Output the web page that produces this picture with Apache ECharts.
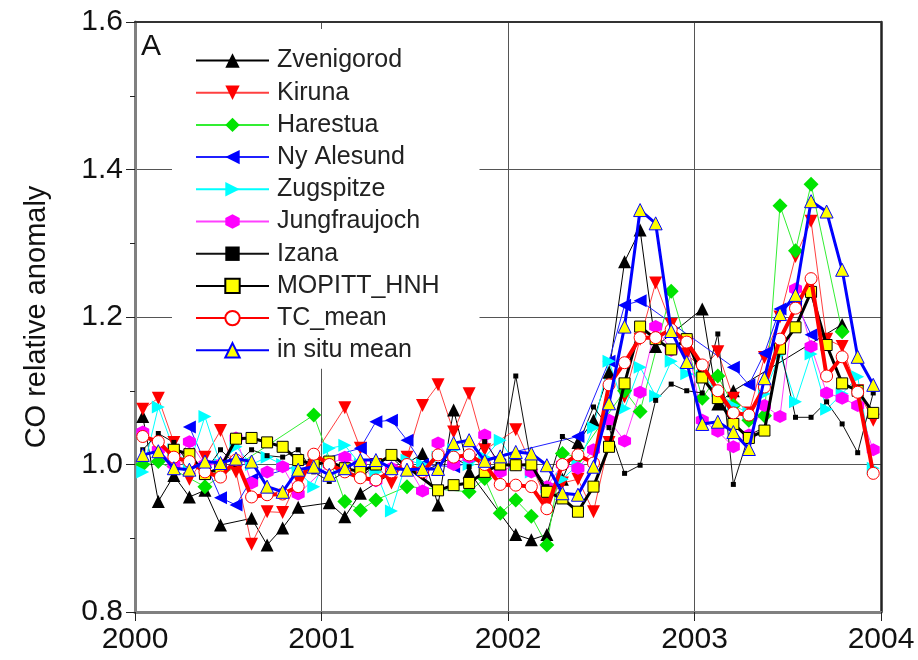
<!DOCTYPE html>
<html>
<head>
<meta charset="utf-8">
<script src="https://cdn.jsdelivr.net/npm/echarts@6/dist/echarts.min.js"></script>
<style>
html,body{margin:0;padding:0;background:#fff;}
#chart{width:918px;height:660px;}
</style>
</head>
<body>
<div id="chart"></div>
<script>
// Monthly values, Jan 2000 .. Dec 2003 (48 months, plotted at mid-month)
var startYear = 2000;
var xTicks = [2000, 2001, 2002, 2003, 2004];
var yTicks = [0.8, 1.0, 1.2, 1.4, 1.6];

var zvenigorod = [1.065,0.950,0.985,0.956,0.965,0.918,null,0.927,0.891,0.914,0.942,null,
                  0.948,0.929,0.961,null,null,null,1.015,0.945,1.074,0.990,null,null,
                  0.905,0.898,0.905,0.980,1.030,1.060,1.125,1.275,1.318,1.160,null,null,
                  1.211,1.082,1.100,null,null,null,null,null,null,1.190,null,null];
var kiruna = [1.075,1.090,1.030,0.980,1.010,1.046,0.990,0.892,0.936,0.935,0.980,null,
              null,1.077,1.022,1.000,0.975,1.010,1.080,1.108,1.044,1.096,1.020,null,
              1.047,1.000,0.950,0.975,0.980,0.936,1.030,1.092,1.170,1.246,1.190,1.150,
              1.130,1.153,1.090,1.070,1.145,1.200,1.282,1.330,1.170,1.160,1.100,1.060];
var harestua = [1.000,1.004,null,null,0.970,null,null,null,null,null,null,1.067,
                null,0.950,0.938,0.952,null,0.970,null,null,null,0.963,0.981,0.934,
                0.952,0.930,0.891,1.015,1.010,null,null,1.100,1.072,null,1.235,null,
                1.090,1.120,1.080,1.060,1.066,1.351,1.290,1.380,null,1.180,null,null];
var nyAlesund = [null,null,null,1.051,null,0.955,0.945,0.980,null,null,null,null,
                 null,null,1.022,1.058,1.060,1.033,1.000,null,0.997,null,null,null,
                 null,null,null,null,1.038,null,1.140,1.216,1.222,null,null,null,
                 null,null,1.132,1.108,1.151,1.211,1.220,1.176,null,null,null,null];
var zugspitze = [0.990,1.078,1.020,1.000,1.065,1.000,1.024,1.000,1.010,1.000,0.990,0.970,
                 1.022,1.026,1.000,0.990,0.937,1.006,1.000,1.010,1.020,1.000,1.010,1.033,
                 1.000,0.990,0.970,0.980,1.000,1.050,1.140,1.076,1.132,1.093,1.140,1.123,
                 1.120,1.100,1.080,1.070,1.096,1.150,1.085,1.150,1.075,1.096,1.119,0.995];
var jungfraujoch = [1.044,1.020,1.000,1.031,1.000,1.000,1.036,0.975,0.990,0.997,0.960,null,
                    1.000,1.010,1.000,0.978,0.995,1.000,0.964,1.029,1.000,1.010,1.040,0.990,
                    1.000,0.990,0.970,1.000,0.995,1.020,1.060,1.032,1.098,1.187,1.155,1.170,
                    1.060,1.045,1.024,1.040,1.080,1.065,1.238,1.160,1.097,1.090,1.080,1.020];
var izana = [1.020,1.042,1.030,1.000,0.990,1.020,1.000,1.020,1.012,1.010,1.020,0.990,
             0.977,0.990,0.982,1.000,1.010,0.990,0.990,1.000,1.010,0.997,1.031,1.000,
             1.120,1.000,0.970,1.038,1.026,1.078,1.050,0.988,0.999,1.087,1.109,1.100,
             1.097,1.177,0.973,1.040,1.050,1.160,1.064,1.064,1.085,1.055,1.016,1.097];
var mopittHNH = [null,null,1.020,1.014,0.987,0.995,1.035,1.036,1.030,1.024,1.006,1.000,
                 1.004,0.995,0.990,1.000,1.013,null,null,0.965,0.972,0.975,0.990,1.000,
                 0.999,1.000,0.963,0.954,0.936,0.970,1.024,1.110,1.187,1.170,1.156,1.170,
                 1.118,1.090,1.055,1.036,1.046,1.157,1.186,1.234,1.162,1.110,1.100,1.070];
var tcMean = [1.038,1.031,1.010,1.004,0.990,0.983,1.006,0.956,0.959,0.960,0.970,1.014,
              1.000,0.990,0.982,0.979,0.990,1.000,0.990,1.013,1.010,1.013,1.000,0.973,
              0.972,0.970,0.940,1.000,1.013,1.002,1.108,1.138,1.172,1.172,1.183,1.166,
              1.135,1.100,1.070,1.067,1.105,1.170,1.212,1.252,1.120,1.146,1.098,0.988];
var inSituMean = [1.013,1.018,0.995,0.993,1.004,1.002,1.008,1.004,0.970,0.963,0.993,0.997,
                  0.986,0.995,1.006,1.006,0.995,0.993,0.994,0.994,1.029,1.033,1.005,1.011,
                  1.017,1.015,0.999,0.961,0.959,0.997,1.083,1.187,1.345,1.327,1.181,1.139,
                  1.055,1.058,1.044,1.021,1.117,1.204,1.230,1.357,1.343,1.264,1.146,1.108];

function pairs(vals) {
  return vals.map(function (v, i) { return [startYear + (i + 0.5) / 12, v]; });
}

var hexPath = 'path://M0,-10 L8.66,-5 L8.66,5 L0,10 L-8.66,5 L-8.66,-5 Z';

function mk(name, vals, o) {
  return {
    name: name, type: 'line', data: pairs(vals), connectNulls: true,
    symbol: o.symbol, symbolSize: o.size, symbolRotate: o.rotate || 0,
    showAllSymbol: true, animation: false,
    lineStyle: { color: o.line, width: o.lw },
    itemStyle: { color: o.fill, borderColor: o.stroke, borderWidth: o.bw || 0, opacity: 1 },
    emphasis: { disabled: true }, z: o.z || 2
  };
}

var series = [
  mk('Zvenigorod', zvenigorod, { symbol: 'triangle', size: 13, line: '#000', lw: 1, fill: '#000', stroke: '#000' }),
  mk('Kiruna', kiruna, { symbol: 'triangle', size: 13, rotate: 180, line: '#ff4040', lw: 1, fill: '#ff0000', stroke: '#ff0000' }),
  mk('Harestua', harestua, { symbol: 'diamond', size: 15, line: '#33ee33', lw: 1, fill: '#00e400', stroke: '#00e400' }),
  mk('Ny Alesund', nyAlesund, { symbol: 'triangle', size: 13, rotate: 90, line: '#2020ff', lw: 1, fill: '#0000ff', stroke: '#0000ff' }),
  mk('Zugspitze', zugspitze, { symbol: 'triangle', size: 13, rotate: -90, line: '#00ffff', lw: 1, fill: '#00ffff', stroke: '#00ffff' }),
  mk('Jungfraujoch', jungfraujoch, { symbol: hexPath, size: 13, line: '#ff40ff', lw: 1, fill: '#ff00ff', stroke: '#ff00ff' }),
  mk('Izana', izana, { symbol: 'rect', size: 5, line: '#111', lw: 1, fill: '#000', stroke: '#000' }),
  mk('MOPITT_HNH', mopittHNH, { symbol: 'rect', size: 11, line: '#000', lw: 3, fill: '#ffff00', stroke: '#000', bw: 1, z: 3 }),
  mk('TC_mean', tcMean, { symbol: 'circle', size: 12, line: '#ff0000', lw: 4, fill: '#ffffff', stroke: '#ff0000', bw: 1, z: 4 }),
  mk('in situ mean', inSituMean, { symbol: 'triangle', size: 13, line: '#0000ff', lw: 3, fill: '#ffff00', stroke: '#0000ff', bw: 1, z: 5 })
];

var font = 'Liberation Sans, Arial, sans-serif';
var chart = echarts.init(document.getElementById('chart'), null, { renderer: 'canvas' });
chart.setOption({
  animation: false,
  backgroundColor: '#ffffff',
  grid: { left: 135, right: 37, top: 22, bottom: 48, containLabel: false },
  xAxis: [{
    type: 'value', min: xTicks[0], max: xTicks[xTicks.length - 1], interval: 1,
    axisLine: { show: true, onZero: false, lineStyle: { color: '#808080', width: 3 } },
    axisTick: { show: true, inside: false, length: 9, lineStyle: { color: '#222', width: 1 } },
    axisLabel: { color: '#111', fontSize: 30, fontFamily: font, margin: 13,
      formatter: function (v) { return xTicks.indexOf(v) >= 0 ? String(v) : ''; } },
    splitLine: { show: true, lineStyle: { color: '#555', width: 1 } }
  }, {
    type: 'value', position: 'top', min: xTicks[0], max: xTicks[xTicks.length - 1],
    axisLine: { show: true, onZero: false, lineStyle: { color: '#333', width: 2 } },
    axisTick: { show: false }, axisLabel: { show: false }, splitLine: { show: false }
  }],
  yAxis: [{
    type: 'value', min: yTicks[0], max: yTicks[yTicks.length - 1], interval: 0.2,
    name: 'CO relative anomaly', nameLocation: 'middle', nameGap: 84, nameRotate: 90,
    nameTextStyle: { fontSize: 29, fontFamily: font, color: '#111' },
    axisLine: { show: true, onZero: false, lineStyle: { color: '#808080', width: 3 } },
    axisTick: { show: true, inside: false, length: 9, lineStyle: { color: '#222', width: 1 } },
    minorTick: { show: true, splitNumber: 2, length: 5, lineStyle: { color: '#222', width: 1 } },
    axisLabel: { color: '#111', fontSize: 30, fontFamily: font, margin: 12,
      formatter: function (v) { return v.toFixed(1); } },
    splitLine: { show: true, lineStyle: { color: '#555', width: 1 } }
  }, {
    type: 'value', position: 'right', min: yTicks[0], max: yTicks[yTicks.length - 1],
    axisLine: { show: true, onZero: false, lineStyle: { color: '#222', width: 2.5 } },
    axisTick: { show: false }, axisLabel: { show: false }, splitLine: { show: false }
  }],
  legend: {
    orient: 'vertical', left: 172, top: 29,
    padding: [19, 40, 6, 23], itemGap: 7.2, itemWidth: 73, itemHeight: 18,
    backgroundColor: '#ffffff',
    textStyle: { fontSize: 25, fontFamily: font, color: '#222', lineHeight: 25, padding: [0, 0, 0, 3] },
    data: series.map(function (s) { return s.name; }),
    selectedMode: false
  },
  graphic: [{
    type: 'text', left: 141, top: 32,
    style: { text: 'A', fontSize: 30, fontFamily: font, fill: '#111' }, z: 10
  }],
  series: series
});
</script>
</body>
</html>
